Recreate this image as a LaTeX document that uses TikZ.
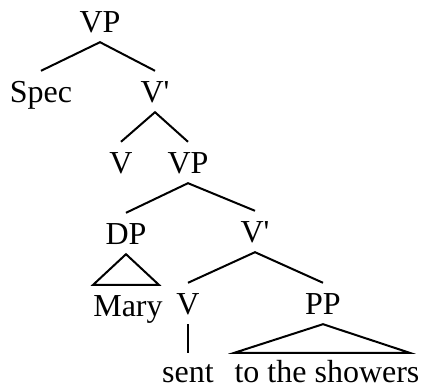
\documentclass[tikz,border=0pt]{standalone}
\usepackage{fontspec}
\setmainfont{Liberation Serif}
\usepackage{tikz}
\usetikzlibrary{
    positioning,
    calc}

\begin{document}
\begin{tikzpicture}[x=1pt,y=1pt,
    cat/.style={anchor=base, inner xsep=0pt, inner ysep=9pt,
      text height=23pt, text depth=0pt,
      font=\fontsize{32}{38}\selectfont},
    word/.style={cat, inner ysep=2pt, text height=28pt},
    branch/.style={black, line width=2pt}]
    \useasboundingbox (0,0) rectangle (421,390);
    \node[cat] (vp) at (100,357) {VP};
    \node[cat] (spec) at (41,287) {Spec};
    \node[cat] (vbar) at (155,287) {V\textquotesingle};
    \node[cat] (v) at (121,216) {V};
    \node[cat] (vpb) at (188,216) {VP};
    \node[cat] (dp) at (126,145) {DP};
    \node[cat] (vbarb) at (255,147) {V\textquotesingle};
    \node[cat] (mary) at (128,73) {Mary};
    \node[cat] (vb) at (188,75) {V};
    \node[cat] (pp) at (323,75) {PP};
    \node[word] (sent) at (188,7) {sent};
    \node[word] (showers) at (327,7) {to the showers};

    \draw [branch] (spec.north) -- (vp.south) -- (vbar.north);
    \draw [branch] (v.north) -- (vbar.south) -- (vpb.north);
    \draw [branch] (dp.north) -- (vpb.south) -- (vbarb.north);
    \draw [branch] (vb.north) -- (vbarb.south) -- (pp.north);
    \draw [branch] (vb.south) -- (sent.north);
    % triangles
    \draw [branch] (dp.south) -- (mary.north west) -- ($ (mary.north east) + (-4,0) $) -- cycle;
    \draw [branch] (pp.south) -- (showers.north west) -- ($ (showers.north east) + (-10,0) $) -- cycle;
  \end{tikzpicture}
\end{document}
